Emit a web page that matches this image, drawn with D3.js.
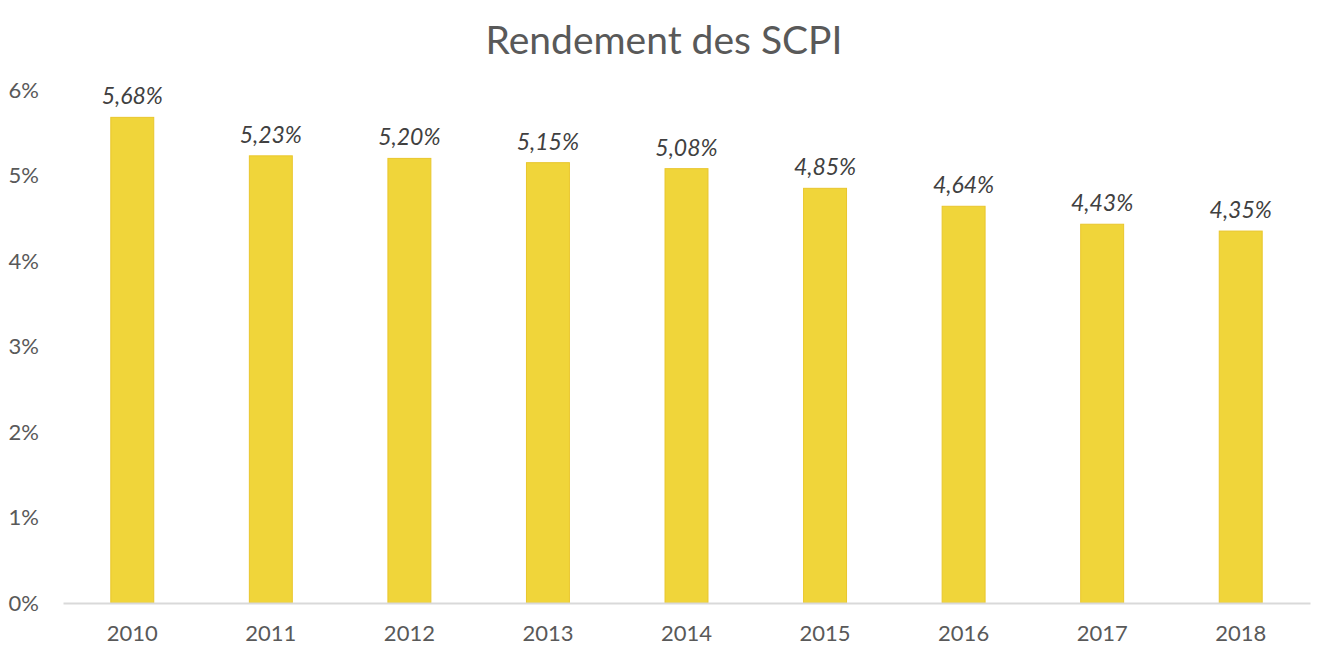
<!DOCTYPE html>
<html>
<head>
<meta charset="utf-8">
<script src="https://cdn.jsdelivr.net/npm/d3@7"></script>
<style>
  body { margin: 0; background: #fff; }
  text { font-family: Lato, "Open Sans", sans-serif; }
</style>
</head>
<body>
<svg class="chart"></svg>
<script>
// Données
var years = ["2010", "2011", "2012", "2013", "2014", "2015", "2016", "2017", "2018"];
var rendement = [5.68, 5.23, 5.20, 5.15, 5.08, 4.85, 4.64, 4.43, 4.35];
var yTicks = [0, 1, 2, 3, 4, 5, 6];

var totalW = 1328, totalH = 662;
var margin = { top: 90, right: 18, bottom: 59, left: 63 },
    width = totalW - margin.left - margin.right,
    height = totalH - margin.top - margin.bottom;

var svg = d3.select(".chart")
    .attr("width", totalW)
    .attr("height", totalH);

svg.append("text")
    .attr("x", totalW / 2)
    .attr("y", 54)
    .attr("text-anchor", "middle")
    .attr("font-size", 39)
    .attr("fill", "#595959")
    .text("Rendement des SCPI");

var g = svg.append("g")
    .attr("transform", "translate(" + margin.left + "," + margin.top + ")");

var x = d3.scaleBand()
    .domain(years)
    .range([0, width])
    .paddingInner(0.69)
    .paddingOuter(0.345);

var y = d3.scaleLinear()
    .domain([0, 6])
    .range([height, 0]);

// Barres
g.selectAll(".bar")
    .data(rendement)
  .enter().append("rect")
    .attr("class", "bar")
    .attr("x", function(d, i) { return x(years[i]); })
    .attr("width", x.bandwidth())
    .attr("y", function(d) { return y(d); })
    .attr("height", function(d) { return height - y(d); })
    .attr("fill", "#F0D53A")
    .attr("stroke", "#E9C62C")
    .attr("stroke-width", 1);

// Étiquettes
g.selectAll(".label")
    .data(rendement)
  .enter().append("text")
    .attr("x", function(d, i) { return x(years[i]) + x.bandwidth() / 2; })
    .attr("y", function(d) { return y(d) - 13; })
    .attr("text-anchor", "middle")
    .attr("font-size", 23)
    .attr("font-style", "italic")
    .attr("fill", "#404040")
    .text(function(d) { return d.toFixed(2).replace(".", ",") + "%"; });

// Axe X
var xAxis = g.append("g")
    .attr("transform", "translate(0," + height + ")")
    .call(d3.axisBottom(x).tickSize(0).tickPadding(22));
xAxis.select(".domain").attr("stroke", "#d9d9d9").attr("stroke-width", 2);
xAxis.selectAll("text").attr("font-size", 22).attr("fill", "#595959")
    .style("font-family", "Lato, 'Open Sans', sans-serif");

// Axe Y
var yAxis = g.append("g")
    .call(d3.axisLeft(y).tickValues(yTicks).tickSize(0).tickPadding(24)
        .tickFormat(function(d) { return d + "%"; }));
yAxis.select(".domain").remove();
yAxis.selectAll("text").attr("font-size", 22).attr("fill", "#595959")
    .style("font-family", "Lato, 'Open Sans', sans-serif");
</script>
</body>
</html>
